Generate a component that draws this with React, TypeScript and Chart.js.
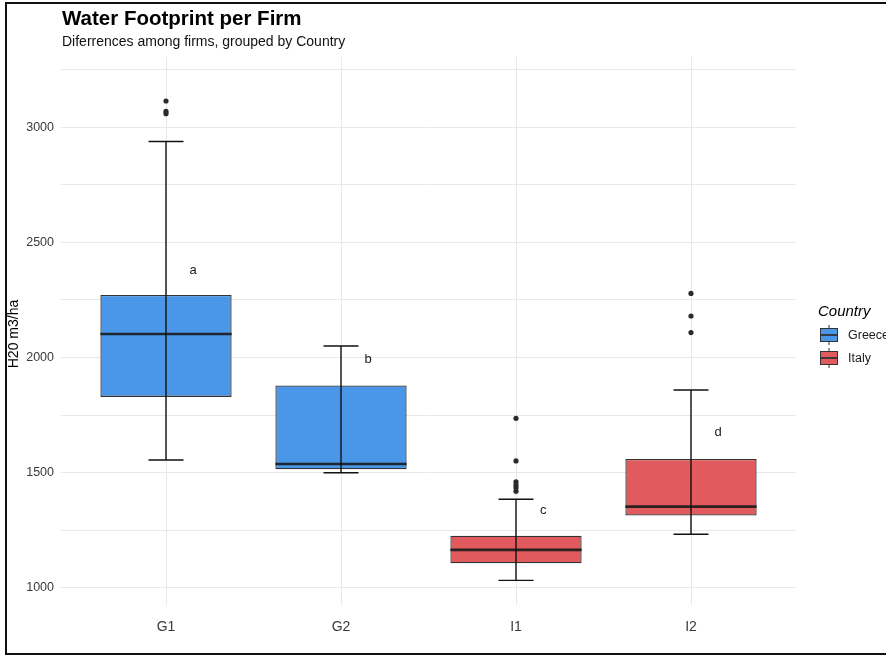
import React, { useEffect, useRef } from "react";
import { Chart, registerables } from "chart.js";

Chart.register(...registerables);

// ---- data ----
const categories = ["G1", "G2", "I1", "I2"];
const countryOf = ["Greece", "Greece", "Italy", "Italy"];
const countries = ["Greece", "Italy"];
const countryColors = ["#4a96e8", "#e05a5e"];
const whiskerLow = [1555, 1500, 1033, 1233];
const q1 = [1829, 1515, 1107, 1314];
const median = [2102, 1538, 1165, 1353];
const q3 = [2271, 1879, 1227, 1560];
const whiskerHigh = [2937, 2050, 1385, 1859];
const outliersG1 = [3113, 3068, 3058];
const outliersG2: number[] = [];
const outliersI1 = [1736, 1551, 1460, 1447, 1435, 1420];
const outliersI2 = [2278, 2180, 2108];
const groupLetters = ["a", "b", "c", "d"];
const letterValues = [2380, 1993, 1335, 1673];
const yGridValues = [1000, 1250, 1500, 1750, 2000, 2250, 2500, 2750, 3000, 3250];
const yLabelValues = [1000, 1500, 2000, 2500, 3000];

const titleText = "Water Footprint per Firm";
const subtitleText = "Diferrences among firms, grouped by Country";
const yTitleText = "H20 m3/ha";
const legendTitle = "Country";

const FONT = "'Liberation Sans', Arial, Helvetica, sans-serif";

export default function App() {
  const ref = useRef<HTMLCanvasElement | null>(null);

  useEffect(() => {
    if (!ref.current) return;
    const outlierLists = [outliersG1, outliersG2, outliersI1, outliersI2];
    const outlierPoints: { x: number; y: number }[] = [];
    outlierLists.forEach((list, i) => list.forEach((v) => outlierPoints.push({ x: i + 1, y: v })));

    const boxDatasets = countries.map((c, ci) => ({
      type: "bar" as const,
      label: c,
      data: categories
        .map((_, i) => ({ x: i + 1, y: [q1[i], q3[i]] as [number, number], c: countryOf[i] }))
        .filter((d) => d.c === c)
        .map((d) => ({ x: d.x, y: d.y })),
      backgroundColor: countryColors[ci],
      borderColor: "rgba(40,40,40,0.95)",
      borderWidth: 1.3,
      borderSkipped: false as const,
      grouped: false,
      barPercentage: 0.75,
      categoryPercentage: 1,
      order: 2,
    }));

    const boxPlugin = {
      id: "boxExtras",
      afterDatasetsDraw(chart: any) {
        const ctx = chart.ctx;
        const xs = chart.scales.x;
        const ys = chart.scales.y;
        ctx.save();
        categories.forEach((_, i) => {
          const xc = xs.getPixelForValue(i + 1);
          const half = xs.getPixelForValue(i + 1 + 0.375) - xc;
          const cap = xs.getPixelForValue(i + 1 + 0.1) - xc;
          // median
          ctx.strokeStyle = "rgba(25,25,25,0.9)";
          ctx.lineWidth = 2.6;
          ctx.beginPath();
          const ym = ys.getPixelForValue(median[i]);
          ctx.moveTo(xc - half, ym);
          ctx.lineTo(xc + half, ym);
          ctx.stroke();
          // error bar
          ctx.strokeStyle = "#111";
          ctx.lineWidth = 1.4;
          const yl = ys.getPixelForValue(whiskerLow[i]);
          const yh = ys.getPixelForValue(whiskerHigh[i]);
          ctx.beginPath();
          ctx.moveTo(xc, yl);
          ctx.lineTo(xc, yh);
          ctx.moveTo(xc - cap, yl);
          ctx.lineTo(xc + cap, yl);
          ctx.moveTo(xc - cap, yh);
          ctx.lineTo(xc + cap, yh);
          ctx.stroke();
          // letters
          ctx.fillStyle = "#1a1a1a";
          ctx.font = `13px ${FONT}`;
          ctx.textAlign = "center";
          ctx.textBaseline = "middle";
          ctx.fillText(groupLetters[i], xs.getPixelForValue(i + 1 + 0.155), ys.getPixelForValue(letterValues[i]));
        });
        ctx.restore();
      },
      afterDraw(chart: any) {
        const ctx = chart.ctx;
        const area = chart.chartArea;
        ctx.save();
        // titles
        ctx.fillStyle = "#000";
        ctx.textAlign = "left";
        ctx.textBaseline = "alphabetic";
        ctx.font = `bold 20.5px ${FONT}`;
        ctx.fillText(titleText, area.left + 1, 25);
        ctx.font = `14px ${FONT}`;
        ctx.fillStyle = "#111";
        ctx.fillText(subtitleText, area.left + 1, 46);
        // y title
        ctx.save();
        ctx.translate(14, (area.top + area.bottom) / 2 + 3);
        ctx.rotate(-Math.PI / 2);
        ctx.textAlign = "center";
        ctx.textBaseline = "middle";
        ctx.font = `14px ${FONT}`;
        ctx.fillStyle = "#000";
        ctx.fillText(yTitleText, 0, 0);
        ctx.restore();
        // legend
        ctx.font = `italic 15px ${FONT}`;
        ctx.fillStyle = "#000";
        ctx.textAlign = "left";
        ctx.fillText(legendTitle, 818, 316);
        countries.forEach((c, ci) => {
          const cy = 335 + ci * 23;
          const kx0 = 820;
          const kx1 = 838;
          const kc = (kx0 + kx1) / 2;
          ctx.strokeStyle = "#333";
          ctx.lineWidth = 1;
          ctx.beginPath();
          ctx.moveTo(kc, cy - 10);
          ctx.lineTo(kc, cy + 10);
          ctx.stroke();
          ctx.fillStyle = countryColors[ci];
          ctx.fillRect(kx0, cy - 7, kx1 - kx0, 14);
          ctx.strokeRect(kx0 + 0.5, cy - 6.5, kx1 - kx0 - 1, 13);
          ctx.lineWidth = 1.8;
          ctx.beginPath();
          ctx.moveTo(kx0, cy);
          ctx.lineTo(kx1, cy);
          ctx.stroke();
          ctx.fillStyle = "#1a1a1a";
          ctx.font = `12.5px ${FONT}`;
          ctx.textBaseline = "middle";
          ctx.fillText(c, 848, cy + 1);
          ctx.textBaseline = "alphabetic";
        });
        ctx.restore();
      },
    };

    const chart = new Chart(ref.current, {
      type: "bar",
      data: {
        datasets: [
          ...boxDatasets,
          {
            type: "scatter" as const,
            label: "outliers",
            data: outlierPoints,
            backgroundColor: "#2b2b2b",
            borderWidth: 0,
            pointRadius: 2.6,
            order: 1,
          } as any,
        ],
      },
      options: {
        responsive: false,
        animation: false,
        layout: { padding: { top: 57, right: 90, left: 0, bottom: 0 } },
        plugins: { legend: { display: false }, tooltip: { enabled: false }, title: { display: false } },
        scales: {
          x: {
            type: "linear",
            min: 0.4,
            max: 4.6,
            offset: false,
            afterBuildTicks: (scale: any) => {
              scale.ticks = categories.map((_, i) => ({ value: i + 1 }));
            },
            afterFit: (scale: any) => {
              scale.height = 51;
            },
            ticks: {
              autoSkip: false,
              maxRotation: 0,
              padding: 14,
              color: "#3a3a3a",
              font: { family: FONT, size: 14 },
              callback: (v: any) => categories[Math.round(Number(v)) - 1] ?? "",
            },
            grid: { color: "#e8e8e8", lineWidth: 1, drawTicks: false, offset: false },
            border: { display: false },
          },
          y: {
            type: "linear",
            min: 926,
            max: 3304,
            afterBuildTicks: (scale: any) => {
              scale.ticks = yGridValues.map((v) => ({ value: v }));
            },
            afterFit: (scale: any) => {
              scale.width = 61;
            },
            ticks: {
              autoSkip: false,
              padding: 7,
              color: "#3a3a3a",
              font: { family: FONT, size: 12.5 },
              callback: (v: any) => (yLabelValues.includes(Number(v)) ? String(v) : ""),
            },
            grid: { color: "#e8e8e8", lineWidth: 1, drawTicks: false },
            border: { display: false },
          },
        },
      } as any,
      plugins: [boxPlugin],
    });
    return () => chart.destroy();
  }, []);

  return (
    <div style={{ position: "absolute", left: 0, top: 0, width: 886, height: 656, background: "#fff", overflow: "hidden" }}>
      <canvas ref={ref} width={886} height={656} style={{ width: 886, height: 656, display: "block" }} />
      <div
        style={{
          position: "absolute",
          left: 5,
          top: 2,
          width: 881,
          height: 653,
          boxSizing: "border-box",
          borderTop: "2px solid #111",
          borderLeft: "2px solid #111",
          borderBottom: "2px solid #111",
          pointerEvents: "none",
        }}
      />
    </div>
  );
}
